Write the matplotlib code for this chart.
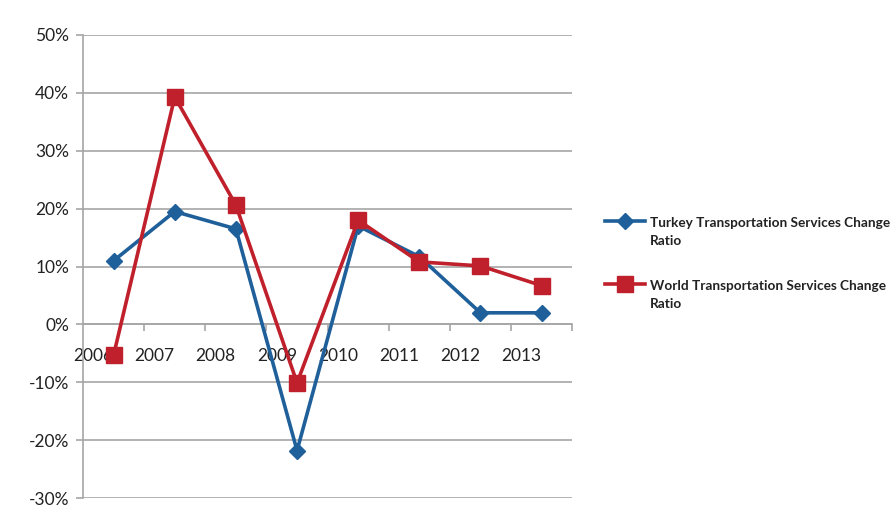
import matplotlib.pyplot as plt
from matplotlib.lines import Line2D
from matplotlib.ticker import FixedLocator, PercentFormatter

years = ['2006', '2007', '2008', '2009', '2010', '2011', '2012', '2013']
turkey = [11.0, 19.5, 16.5, -21.8, 17.0, 11.7, 2.0, 2.0]
world = [-5.3, 39.3, 20.6, -10.1, 18.0, 10.8, 10.1, 6.7]
series_names = ['Turkey Transportation Services Change\nRatio',
                'World Transportation Services Change\nRatio']

blue = '#1f5f9a'
red = '#c0202b'
grid_c = '#a6a6a6'

plt.rcParams['font.family'] = ['Lato', 'DejaVu Sans']
plt.rcParams['axes.unicode_minus'] = False

fig = plt.figure(figsize=(8.91, 5.14), dpi=100)
ax = fig.add_axes([0.0932, 0.031, 0.549, 0.901])

x = list(range(len(years)))
styles = [dict(color=blue, marker='D', ms=8, mec=blue, zorder=3),
          dict(color=red, marker='s', ms=11, mec=red, zorder=4)]
for vals, st in zip([turkey, world], styles):
    ax.plot(x, vals, lw=2.6, **st)

ax.set_xlim(-0.5, len(years) - 0.5)
ax.set_ylim(-30, 50)
ax.set_yticks(range(-30, 51, 10))
ax.yaxis.set_major_formatter(PercentFormatter(decimals=0))
ax.grid(axis='y', color=grid_c, lw=1.2)
ax.set_axisbelow(True)

# category axis crosses at zero, labels sit left of the category centres
for s in ['top', 'right']:
    ax.spines[s].set_visible(False)
ax.spines['bottom'].set_position(('data', 0))
ax.spines['bottom'].set_color(grid_c)
ax.spines['left'].set_color(grid_c)
ax.spines['bottom'].set_linewidth(1.2)
ax.spines['left'].set_linewidth(1.2)

ax.xaxis.set_major_locator(FixedLocator([i - 0.33 for i in x]))
ax.set_xticklabels(years)
ax.xaxis.set_minor_locator(FixedLocator([i + 0.5 for i in x]))
ax.tick_params(axis='x', which='major', length=0, pad=17, labelsize=12.5,
               labelcolor='#222222')
ax.tick_params(axis='x', which='minor', length=5, color=grid_c, width=1.2)
ax.tick_params(axis='y', length=5, color=grid_c, width=1.2, labelsize=12.5,
               labelcolor='#222222', pad=5)

# legend drawn by hand so the wrapped labels get Excel-like line spacing
for name, st, yc in zip(series_names, styles, [0.549, 0.426]):
    hy = yc + 0.022
    handle = Line2D([0.679, 0.7015, 0.724], [hy, hy, hy], lw=2.6,
                    markevery=[1], transform=fig.transFigure, **st)
    fig.add_artist(handle)
    fig.text(0.729, yc, name, ha='left', va='center', fontsize=9.8,
             weight='bold', color='#222222', linespacing=1.6)

fig.savefig('out.png', dpi=100)
